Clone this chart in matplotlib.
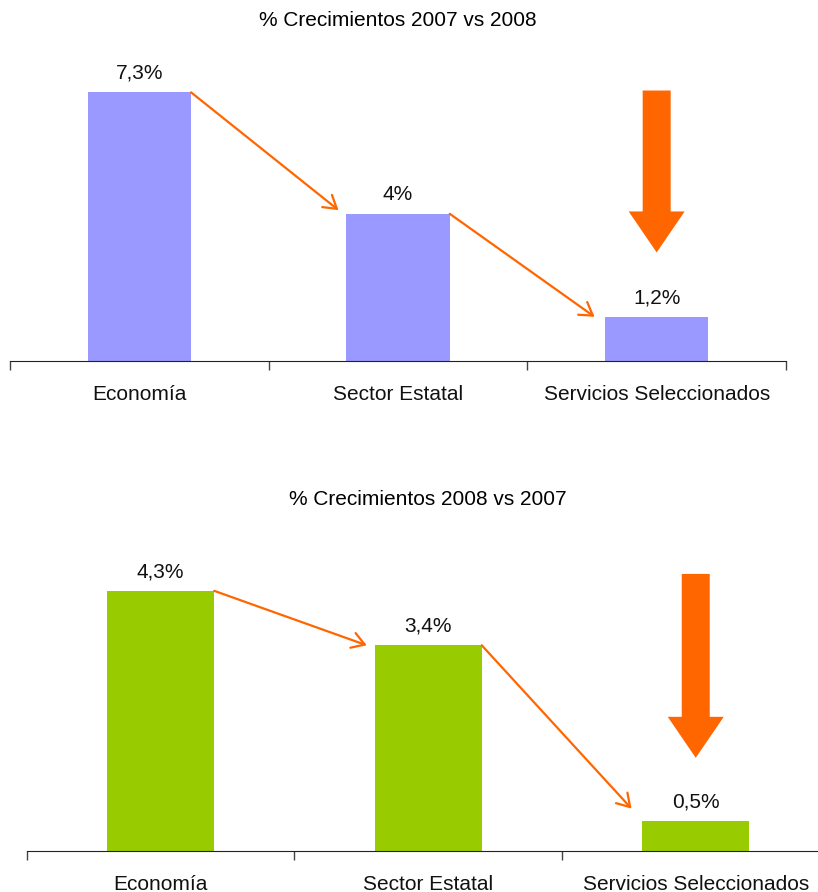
import matplotlib.pyplot as plt
from matplotlib.patches import FancyArrow
from matplotlib.ticker import FixedLocator

plt.rcParams['font.family'] = ['Liberation Sans', 'DejaVu Sans']

# datos
categorias = ['Economía', 'Sector Estatal', 'Servicios Seleccionados']
crec_sup = [7.3, 4.0, 1.2]
etiquetas_sup = ['7,3%', '4%', '1,2%']
crec_inf = [4.3, 3.4, 0.5]
etiquetas_inf = ['4,3%', '3,4%', '0,5%']

titulo_sup = '% Crecimientos 2007 vs 2008'
titulo_inf = '% Crecimientos 2008 vs 2007'

# flechas finas: (x0, y0, x1, y1) en coordenadas de datos
flechas_sup = [(0.2, 7.3, 0.77, 4.1), (1.2, 4.0, 1.76, 1.2)]
flechas_inf = [(0.2, 4.3, 0.77, 3.4), (1.2, 3.4, 1.76, 0.7)]
# flecha gruesa: (x, y inicio, y fin)
flecha_gruesa_sup = (2, 7.35, 2.95)
flecha_gruesa_inf = (2, 4.58, 1.54)

naranja = '#FF6600'

fig = plt.figure(figsize=(8.18, 8.92), dpi=100)


def dibujar(ax, valores, etiquetas, color, ymax, flechas, gruesa, px_x, px_y):
    x = range(len(categorias))
    ax.bar(x, valores, width=0.4, color=color, zorder=2)
    for xi, v, t in zip(x, valores, etiquetas):
        ax.annotate(t, (xi, v), xytext=(0, 7), textcoords='offset points',
                    ha='center', va='bottom', fontsize=15, color='#111111')
    for x0, y0, x1, y1 in flechas:
        ax.annotate('', xy=(x1, y1), xytext=(x0, y0),
                    arrowprops=dict(arrowstyle='->,head_length=0.45,head_width=0.28',
                                    color=naranja, lw=1.6, mutation_scale=20,
                                    shrinkA=0, shrinkB=0))
    gx, gy0, gy1 = gruesa
    ax.add_patch(FancyArrow(gx, gy0, 0, gy1 - gy0, width=28 / px_x,
                            head_width=56 / px_x, head_length=41 / px_y,
                            length_includes_head=True, color=naranja,
                            lw=0, zorder=3))
    ax.set_xlim(-0.5, len(categorias) - 0.5)
    ax.set_ylim(0, ymax)
    for s in ['top', 'right', 'left']:
        ax.spines[s].set_visible(False)
    ax.spines['bottom'].set_color('#222222')
    ax.set_yticks([])
    ax.set_xticks(list(x))
    ax.set_xticklabels(categorias, fontsize=15, color='#111111')
    ax.tick_params(axis='x', which='major', length=0, pad=17)
    ax.xaxis.set_minor_locator(FixedLocator([i - 0.5 for i in range(len(categorias) + 1)]))
    ax.tick_params(axis='x', which='minor', length=6.5, width=1, color='#444444')


# panel superior
ax1 = fig.add_axes([10 / 818, (892 - 361) / 892, 776 / 818, 8 * 36.8 / 892])
dibujar(ax1, crec_sup, etiquetas_sup, '#9999FF', 8, flechas_sup,
        flecha_gruesa_sup, 258.7, 36.8)
fig.text(398 / 818, 1 - 20 / 892, titulo_sup, ha='center', va='center', fontsize=15)

# panel inferior
ax2 = fig.add_axes([27 / 818, (892 - 851) / 892, 802.5 / 818, 5 * 60.5 / 892])
ax2.spines['bottom'].set_clip_on(False)
dibujar(ax2, crec_inf, etiquetas_inf, '#99CC00', 5, flechas_inf,
        flecha_gruesa_inf, 267.5, 60.5)
ax2.axhline(0, xmin=1, xmax=1.05, color='#222222', lw=0.8, clip_on=False)
fig.text(428 / 818, 1 - 500 / 892, titulo_inf, ha='center', va='center', fontsize=15)

fig.savefig('out.png', dpi=100)
